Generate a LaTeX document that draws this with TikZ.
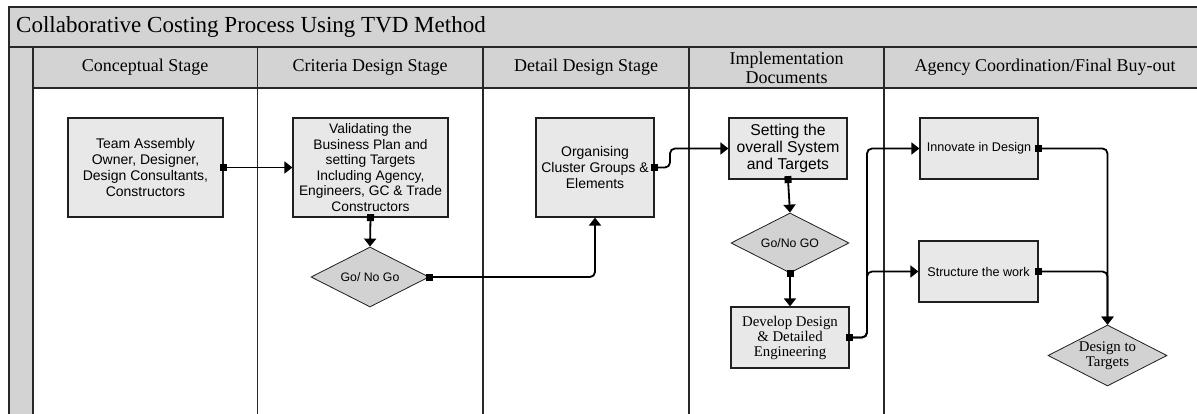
\documentclass[tikz,border=0pt]{standalone}
\usepackage{fontspec}
\setmainfont{Liberation Serif}
\newfontfamily\boxsans{Liberation Sans}
\usetikzlibrary{shapes.geometric,arrows.meta}
\definecolor{bandgray}{RGB}{211,211,211}
\definecolor{boxgray}{RGB}{232,232,232}
\definecolor{diagray}{RGB}{210,210,210}
\definecolor{framec}{RGB}{40,40,40}
\tikzset{
  frameline/.style={draw=framec, line width=1.1pt},
  procbox/.style={draw=black!88, line width=1.2pt, fill=boxgray, inner sep=0pt, align=center,
    font=\boxsans\fontsize{14}{15.7}\selectfont},
  decision/.style={diamond, aspect=2, draw=black!88, line width=0.8pt, fill=diagray, inner sep=0pt,
    align=center, minimum width=118pt, minimum height=60pt, font=\boxsans\fontsize{12.3}{14}\selectfont},
  conn/.style={line width=1.8pt, {Square[length=7pt,width=7pt]}-{Triangle[length=8pt,width=12pt]},
    shorten <=-3.5pt, rounded corners=5pt},
  hdr/.style={inner sep=0pt, align=center, font=\fontsize{18}{19}\selectfont}
}
\begin{document}
\begin{tikzpicture}[x=1pt,y=-1pt]
\useasboundingbox (0,0) rectangle (1197,414);
\clip (0,0) rectangle (1197,414);
% bands
\fill[bandgray] (9,7) rectangle (1206,47);
\fill[bandgray] (33,47) rectangle (1206,88);
\fill[bandgray] (9,47) rectangle (33,420);
% frame lines
\draw[frameline] (1206,7) -- (9,7) -- (9,420);
\draw[frameline] (9,47) -- (1206,47);
\draw[frameline] (33,88) -- (1206,88);
\foreach \xx in {33,257.5,483,689,884} \draw[frameline] (\xx,47) -- (\xx,420);
% titles
\node[anchor=west, inner sep=0pt, font=\fontsize{23}{25}\selectfont] (title) at (16,27) {Collaborative Costing Process Using TVD Method};
\node[hdr] (h1) at (145,67.5) {Conceptual Stage};
\node[hdr] (h2) at (370,67.5) {Criteria Design Stage};
\node[hdr] (h3) at (586,67.5) {Detail Design Stage};
\node[hdr] (h4) at (786.5,67.5) {Implementation\\Documents};
\node[hdr] (h5) at (1045,67.5) {Agency Coordination/Final Buy-out};
% process boxes
\node[procbox, minimum width=155pt, minimum height=99pt] (team) at (145.5,167.5)
  {Team Assembly\\Owner, Designer,\\Design Consultants,\\Constructors};
\node[procbox, minimum width=155pt, minimum height=99pt, font=\boxsans\fontsize{13.8}{15.6}\selectfont] (valid) at (370.5,167.5)
  {Validating the\\Business Plan and\\setting Targets\\Including Agency,\\Engineers, GC \& Trade\\Constructors};
\node[decision] (gng1) at (370,277) {Go/ No Go};
\node[procbox, minimum width=118pt, minimum height=99pt] (org) at (595,167.5)
  {Organising\\Cluster Groups \&\\Elements};
\node[procbox, minimum width=118pt, minimum height=61pt, font=\boxsans\fontsize{15.7}{17.3}\selectfont] (set) at (788,148.5)
  {Setting the\\overall System\\and Targets};
\node[decision] (gng2) at (790,243) {Go/No GO};
\node[procbox, minimum width=118pt, minimum height=61pt, font=\fontsize{14.8}{15}\selectfont] (dev) at (790,337.5)
  {Develop Design\\\& Detailed\\Engineering};
\node[procbox, minimum width=118pt, minimum height=61pt, font=\boxsans\fontsize{12.6}{14}\selectfont] (inn) at (979,148.5)
  {Innovate in Design};
\node[procbox, minimum width=119pt, minimum height=61pt, font=\boxsans\fontsize{12.6}{14}\selectfont] (str) at (978.5,271.5)
  {Structure the work};
\node[decision, minimum width=119pt, minimum height=61pt, font=\fontsize{14.8}{15}\selectfont] (dtt) at (1107.5,355.5)
  {Design to\\Targets};
% connectors
\coordinate (bus) at (867,337.5);
\coordinate (jog) at (670,167.5);
\draw[conn] (team.east) -- (valid.west);
\draw[conn] (valid.south) -- (gng1.north);
\draw[conn] (gng1.east) -| (org.south);
\draw[conn] (org.east) -- (jog) |- (set.west);
\draw[conn] (set.south) -- (gng2.north);
\draw[conn] (gng2.south) -- (dev.north);
\draw[conn] (dev.east) -- (bus) |- (inn.west);
\draw[conn] (dev.east) -- (bus) |- (str.west);
\draw[conn] (inn.east) -| (dtt.north);
\draw[conn] (str.east) -| (dtt.north);
\end{tikzpicture}
\end{document}
